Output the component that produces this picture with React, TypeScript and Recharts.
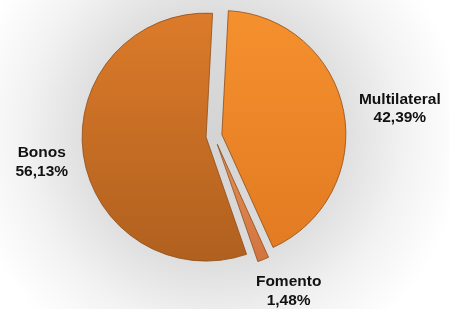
import React from "react";
import { PieChart, Pie, Cell, Sector } from "recharts";

const categories = ["Multilateral", "Fomento", "Bonos"];
const shares = [42.39, 1.48, 56.13];

const data = categories.map((name, i) => ({ name, value: shares[i] }));

const GRADS = ["gMulti", "gFomento", "gBonos"];
const EXPLODE = [8, 9, 8];
const LABEL_R = 180;
const LABEL_NUDGE = [
  { dx: 9, dy: 1 },
  { dx: 8, dy: -17 },
  { dx: 6, dy: -4 },
];

const CX = 214;
const CY = 136;

const fmt = (v: number) => v.toFixed(2).replace(".", ",") + "%";

const ExplodedSector = (props: any) => {
  const { cx, cy, midAngle, index } = props;
  const off = EXPLODE[index] ?? 0;
  const rad = (midAngle * Math.PI) / 180;
  const dx = off * Math.cos(rad);
  const dy = -off * Math.sin(rad);
  return <Sector {...props} cx={cx + dx} cy={cy + dy} />;
};

const renderLabel = (props: any) => {
  const { cx, cy, midAngle, index, name, value } = props;
  const rad = (midAngle * Math.PI) / 180;
  const n = LABEL_NUDGE[index] ?? { dx: 0, dy: 0 };
  const x = cx + LABEL_R * Math.cos(rad) + n.dx;
  const y = cy - LABEL_R * Math.sin(rad) + n.dy;
  return (
    <text
      x={x}
      y={y}
      textAnchor="middle"
      fill="#111"
      fontFamily="'Liberation Sans', Arial, sans-serif"
      fontWeight="bold"
      fontSize={15.5}
    >
      <tspan x={x} y={y}>{name}</tspan>
      <tspan x={x} y={y + 18.5}>{fmt(value)}</tspan>
    </text>
  );
};

export default function App() {
  return (
    <div
      style={{
        position: "fixed",
        left: 0,
        top: 0,
        width: 449,
        height: 309,
        overflow: "hidden",
        background: `radial-gradient(circle at ${CX}px ${CY}px, #d4d4d4 0px, #dcdcdc 120px, #f2f2f2 190px, #ffffff 250px)`,
      }}
    >
      <svg width={0} height={0} style={{ position: "absolute" }}>
        <defs>
          <linearGradient id="gMulti" x1="0" y1="0" x2="0" y2="1">
            <stop offset="0%" stopColor="#F5902E" />
            <stop offset="100%" stopColor="#E27B22" />
          </linearGradient>
          <linearGradient id="gFomento" x1="0" y1="0" x2="0" y2="1">
            <stop offset="0%" stopColor="#E28E58" />
            <stop offset="100%" stopColor="#D27540" />
          </linearGradient>
          <linearGradient id="gBonos" x1="0" y1="0" x2="0" y2="1">
            <stop offset="0%" stopColor="#DC7B2A" />
            <stop offset="100%" stopColor="#B0601F" />
          </linearGradient>
        </defs>
      </svg>
      <div style={{ position: "absolute", left: 0, top: 0 }}>
        <PieChart width={449} height={309} margin={{ top: 0, right: 0, bottom: 0, left: 0 }}>
          <Pie
            data={data}
            dataKey="value"
            nameKey="name"
            cx={CX}
            cy={CY}
            outerRadius={124}
            startAngle={87}
            endAngle={-273}
            isAnimationActive={false}
            shape={ExplodedSector}
            label={renderLabel}
            labelLine={false}
            stroke="#8f4c15"
            strokeWidth={0.8}
          >
            {data.map((d, i) => (
              <Cell key={d.name} fill={`url(#${GRADS[i]})`} />
            ))}
          </Pie>
        </PieChart>
      </div>
    </div>
  );
}
